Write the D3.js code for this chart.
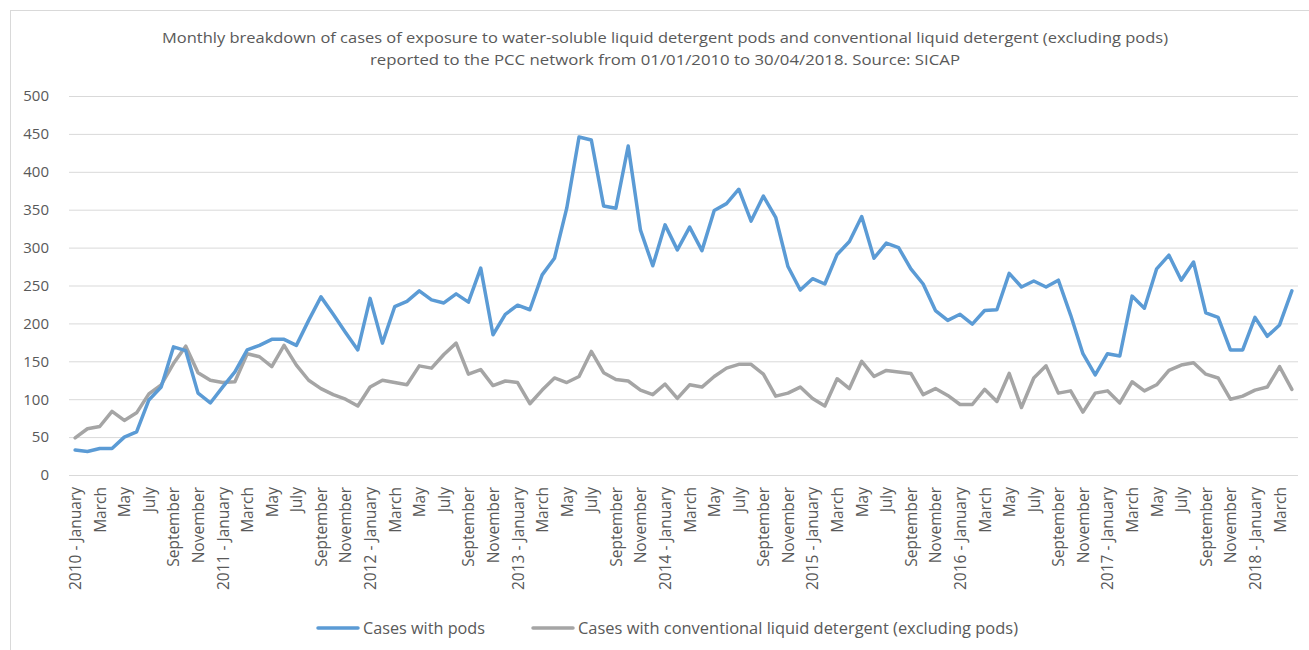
<!DOCTYPE html>
<html>
<head>
<meta charset="utf-8">
<script src="https://cdn.jsdelivr.net/npm/d3@7"></script>
<style>
  html, body { margin: 0; padding: 0; background: #fff; }
  svg { display: block; }
  text { font-family: "Open Sans", "Liberation Sans", sans-serif; fill: #595959; }
</style>
</head>
<body>
<svg id="chart" width="1309" height="650"></svg>
<script>
// Month labels, Jan 2010 .. Apr 2018 (100 months)
const monthNames = ["January","February","March","April","May","June","July","August","September","October","November","December"];
const years = [2010, 2011, 2012, 2013, 2014, 2015, 2016, 2017, 2018];

// Monthly cases with water-soluble liquid detergent pods
const podCases = [
  33, 31, 35, 35, 50, 57, 99, 116, 169, 164, 108, 95,
  116, 136, 165, 171, 179, 179, 171, 204, 235, 212, 188, 165,
  233, 174, 222, 229, 243, 231, 227, 239, 228, 273, 185, 212,
  224, 218, 264, 286, 352, 446, 442, 355, 352, 434, 323, 276,
  330, 297, 327, 296, 349, 358, 377, 335, 368, 340, 275, 244,
  259, 252, 291, 308, 341, 286, 306, 300, 272, 252, 217, 204,
  212, 199, 217, 218, 266, 248, 256, 248, 257, 211, 160, 132,
  160, 157, 236, 220, 272, 290, 257, 281, 214, 208, 165, 165,
  208, 183, 198, 243
];

// Monthly cases with conventional liquid detergent (excluding pods)
const conventionalCases = [
  49, 61, 64, 84, 72, 82, 107, 119, 147, 170, 135, 125,
  122, 123, 160, 156, 143, 171, 145, 125, 114, 106, 100, 91,
  116, 125, 122, 119, 144, 141, 159, 174, 133, 139, 118, 124,
  122, 94, 112, 128, 122, 130, 163, 135, 126, 124, 112, 106,
  120, 101, 119, 116, 130, 141, 146, 146, 133, 104, 108, 116,
  101, 91, 127, 114, 150, 130, 138, 136, 134, 106, 114, 105,
  93, 93, 113, 97, 134, 89, 128, 144, 108, 111, 83, 108,
  111, 95, 123, 111, 119, 138, 145, 148, 133, 128, 100, 104,
  112, 116, 143, 113
];

const yTicks = [0, 50, 100, 150, 200, 250, 300, 350, 400, 450, 500];
const titleLines = [
  "Monthly breakdown of cases of exposure to water-soluble liquid detergent pods and conventional liquid detergent (excluding pods)",
  "reported to the PCC network from 01/01/2010 to 30/04/2018. Source: SICAP"
];
const seriesNames = ["Cases with pods", "Cases with conventional liquid detergent (excluding pods)"];
const seriesColors = ["#5B9BD5", "#A5A5A5"];

// Category keys: one per month, first month of each year carries the year
const months = podCases.map((_, i) => {
  const y = years[Math.floor(i / 12)];
  const m = monthNames[i % 12];
  return i % 12 === 0 ? `${y} - ${m}` : m;
});
const keys = months.map((_, i) => i);

const svg = d3.select("#chart");

// Outer frame
svg.append("rect")
  .attr("x", 10.5).attr("y", 10.5)
  .attr("width", 1310).attr("height", 650)
  .attr("fill", "none").attr("stroke", "#D9D9D9").attr("stroke-width", 1);

const plot = { left: 69, right: 1298, top: 96, bottom: 475 };

const x = d3.scalePoint()
  .domain(keys)
  .range([plot.left, plot.right])
  .padding(0.5);

const y = d3.scaleLinear()
  .domain([0, 500])
  .range([plot.bottom, plot.top]);

// Title
const title = svg.append("g");
const titleWidths = [1006, 590];
titleLines.forEach((t, i) => {
  title.append("text")
    .attr("x", 665)
    .attr("y", 43 + i * 22)
    .attr("text-anchor", "middle")
    .attr("font-size", 14)
    .attr("textLength", titleWidths[i])
    .attr("lengthAdjust", "spacingAndGlyphs")
    .text(t);
});

// Horizontal gridlines and value axis labels
const yAxis = d3.axisLeft(y)
  .tickValues(yTicks)
  .tickSize(-(plot.right - plot.left))
  .tickPadding(20);

const yG = svg.append("g")
  .attr("transform", `translate(${plot.left},0)`)
  .call(yAxis);
yG.select(".domain").remove();
yG.selectAll(".tick line").attr("stroke", "#D9D9D9").attr("stroke-width", 1);
yG.selectAll(".tick text")
  .attr("font-size", 15)
  .attr("fill", "#595959")
  .style("font-family", "'Open Sans', sans-serif");

// Category axis with every second month labelled
const xAxis = d3.axisBottom(x)
  .tickValues(keys.filter(k => k % 2 === 0))
  .tickFormat(k => months[k])
  .tickSize(0)
  .tickPadding(0);

const xG = svg.append("g")
  .attr("transform", `translate(0,${plot.bottom})`)
  .call(xAxis);
xG.select(".domain").remove();
xG.selectAll(".tick text")
  .attr("transform", "rotate(-90)")
  .attr("text-anchor", "end")
  .attr("x", -12)
  .attr("y", 0)
  .attr("dy", "0.35em")
  .attr("font-size", 15.5)
  .attr("fill", "#595959")
  .style("font-family", "'Open Sans', sans-serif");

// Series lines
const line = d3.line()
  .x((d, i) => x(i))
  .y(d => y(d));

[conventionalCases, podCases].forEach(series => {
  const idx = series === podCases ? 0 : 1;
  svg.append("path")
    .datum(series)
    .attr("fill", "none")
    .attr("stroke", seriesColors[idx])
    .attr("stroke-width", 3.5)
    .attr("stroke-linejoin", "round")
    .attr("stroke-linecap", "round")
    .attr("d", line);
});

// Legend
const legendItems = [
  { x1: 318, x2: 358, tx: 363, w: 122 },
  { x1: 533, x2: 573, tx: 578, w: 440 }
];
const legend = svg.append("g");
legendItems.forEach((it, i) => {
  legend.append("line")
    .attr("x1", it.x1).attr("x2", it.x2)
    .attr("y1", 628).attr("y2", 628)
    .attr("stroke", seriesColors[i])
    .attr("stroke-width", 3.5)
    .attr("stroke-linecap", "round");
  legend.append("text")
    .attr("x", it.tx)
    .attr("y", 634)
    .attr("font-size", 15.5)
    .attr("textLength", it.w)
    .attr("lengthAdjust", "spacingAndGlyphs")
    .text(seriesNames[i]);
});
</script>
</body>
</html>
